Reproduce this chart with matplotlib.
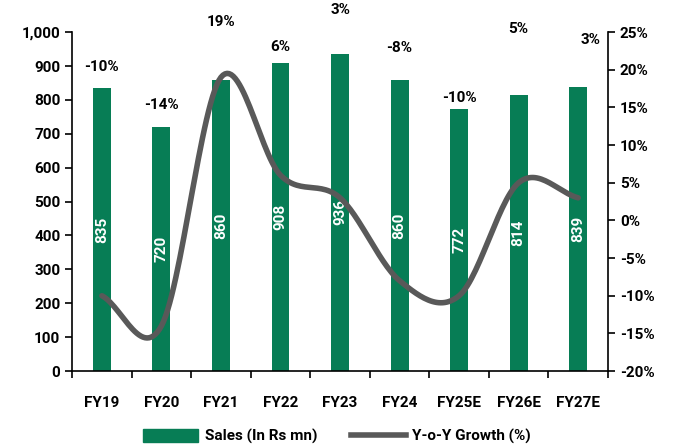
import numpy as np
import matplotlib.pyplot as plt
from matplotlib.ticker import FuncFormatter, MultipleLocator
from matplotlib.lines import Line2D
from matplotlib.patches import Patch

plt.rcParams['font.family'] = ['Roboto', 'DejaVu Sans']
plt.rcParams['font.weight'] = 'bold'

years = ["FY19", "FY20", "FY21", "FY22", "FY23", "FY24", "FY25E", "FY26E", "FY27E"]
sales = [835, 720, 860, 908, 936, 860, 772, 814, 839]
growth = [-10, -14, 19, 6, 3, -8, -10, 5, 3]
growth_labels = ["-10%", "-14%", "19%", "6%", "3%", "-8%", "-10%", "5%", "3%"]
# where Excel left the growth labels, in sales units
label_y = [897, 785, 1030, 956, 1065, 953, 805, 1009, 976]

GREEN = "#077D55"
GREY = "#595959"


def catmull_rom(x, y, n=30):
    # smooth line through the points, like Excel's "smoothed line"
    px = np.concatenate([[2 * x[0] - x[1]], x, [2 * x[-1] - x[-2]]])
    py = np.concatenate([[2 * y[0] - y[1]], y, [2 * y[-1] - y[-2]]])
    xs, ys = [], []
    t = np.linspace(0, 1, n)
    for i in range(1, len(px) - 2):
        p0, p1, p2, p3 = px[i - 1:i + 3]
        q0, q1, q2, q3 = py[i - 1:i + 3]
        bx = [p1, p1 + (p2 - p0) / 6, p2 - (p3 - p1) / 6, p2]
        by = [q1, q1 + (q2 - q0) / 6, q2 - (q3 - q1) / 6, q2]
        for b, out in ((bx, xs), (by, ys)):
            out.extend((1 - t) ** 3 * b[0] + 3 * (1 - t) ** 2 * t * b[1]
                       + 3 * (1 - t) * t ** 2 * b[2] + t ** 3 * b[3])
    return np.array(xs), np.array(ys)


fig = plt.figure(figsize=(6.74, 4.46), dpi=100)
ax = fig.add_axes([0.107, 0.168, 0.795, 0.76])
x = np.arange(len(years))

bars = ax.bar(x, sales, width=0.3, color=GREEN, zorder=2)
for xi, v in zip(x, sales):
    ax.text(xi, v / 2, str(v), rotation=90, ha="center", va="center",
            color="white", fontsize=11, fontweight="bold", zorder=3)

ax.set_xlim(-0.5, len(years) - 0.5)
ax.set_ylim(0, 1000)
ax.yaxis.set_major_locator(MultipleLocator(100))
ax.yaxis.set_major_formatter(FuncFormatter(lambda v, p: f"{int(v):,}"))
ax.set_xticks(x)
ax.set_xticklabels(years)
ax.set_xticks(np.arange(-0.5, len(years)), minor=True)
ax.tick_params(axis="x", which="major", length=0, pad=18, labelsize=11)
ax.tick_params(axis="x", which="minor", length=5, width=1.2, direction="out")
ax.tick_params(axis="y", length=5, width=1.2, labelsize=11)
for s in ["top", "right"]:
    ax.spines[s].set_visible(False)
for s in ["left", "bottom"]:
    ax.spines[s].set_linewidth(1.2)

ax2 = ax.twinx()
sx, sy = catmull_rom(x.astype(float), np.array(growth, dtype=float))
ax2.plot(sx, sy, color=GREY, lw=4, solid_capstyle="round", zorder=4)
ax2.set_ylim(-20, 25)
ax2.yaxis.set_major_locator(MultipleLocator(5))
ax2.yaxis.set_major_formatter(FuncFormatter(lambda v, p: f"{int(v)}%"))
ax2.tick_params(axis="y", length=5, width=1.2, labelsize=11)
for s in ["top", "left", "bottom"]:
    ax2.spines[s].set_visible(False)
ax2.spines["right"].set_linewidth(1.2)

for i, (lab, ly) in enumerate(zip(growth_labels, label_y)):
    dx = 0.2 if i == len(years) - 1 else 0
    ax.text(x[i] + dx, ly, lab, ha="center", va="center", fontsize=11,
            fontweight="bold", clip_on=False, zorder=5)

handles = [Patch(color=GREEN, label="Sales (In Rs mn)"),
           Line2D([0], [0], color=GREY, lw=4, label="Y-o-Y Growth (%)")]
fig.legend(handles=handles, loc="center", bbox_to_anchor=(0.5, 0.022), ncol=2,
           frameon=False, fontsize=11, handlelength=3.6, handleheight=1.0,
           columnspacing=2.2, handletextpad=0.4)

fig.savefig("out.png", dpi=100)
